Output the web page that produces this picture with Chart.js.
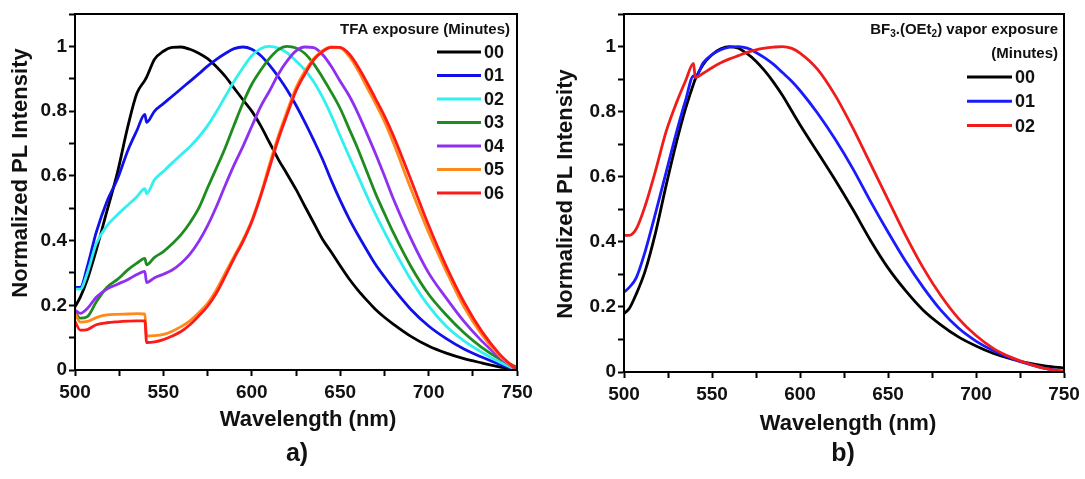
<!DOCTYPE html>
<html>
<head>
<meta charset="utf-8">
<script src="https://cdn.jsdelivr.net/npm/chart.js@4.4.1/dist/chart.umd.min.js"></script>
<style>
  body { margin: 0; background: #fff; width: 1085px; height: 479px; position: relative; overflow: hidden; }
  canvas { position: absolute; top: 0; }
  #chartA { left: 0; }
  #chartB { left: 545px; }
  .tag { position: absolute; top: 452px; transform: translate(-50%, -50%); line-height: 1;
         font-family: "Liberation Sans", Arial, sans-serif; font-weight: bold; font-size: 25px; color: #111; }
</style>
</head>
<body>
<canvas id="chartA" width="545" height="479"></canvas>
<canvas id="chartB" width="540" height="479"></canvas>
<div class="tag" style="left:297px">a)</div>
<div class="tag" style="left:843px">b)</div>
<script>
const FONT = '"Liberation Sans", Arial, sans-serif'

// panel a: TFA exposure
const wlA = [500, 503, 507, 512, 518, 524, 530, 535, 539.5, 540.5,
	545, 550, 555, 560, 565, 570, 575, 580, 585, 590, 595, 600, 605, 610, 615, 620, 625, 630, 635, 640,
	645, 650, 655, 660, 665, 670, 675, 680, 690, 700, 710, 720, 730, 740, 750]
const tfa00 = [0.195, 0.225, 0.28, 0.37, 0.49, 0.61, 0.755, 0.855, 0.895, 0.905,
	0.96, 0.985, 0.997, 0.998, 0.991, 0.979, 0.962, 0.937, 0.907, 0.871, 0.835, 0.80, 0.755, 0.703, 0.651, 0.605, 0.558, 0.506, 0.455, 0.404,
	0.364, 0.322, 0.282, 0.247, 0.216, 0.187, 0.163, 0.142, 0.104, 0.074, 0.052, 0.035, 0.022, 0.01, 0.002]
const tfa01 = [0.255, 0.255, 0.32, 0.425, 0.52, 0.59, 0.68, 0.74, 0.79, 0.765,
	0.80, 0.823, 0.846, 0.869, 0.892, 0.915, 0.939, 0.96, 0.978, 0.993, 0.998, 0.991, 0.972, 0.942, 0.906, 0.865, 0.818, 0.766, 0.71, 0.651,
	0.585, 0.524, 0.468, 0.418, 0.371, 0.326, 0.288, 0.252, 0.187, 0.136, 0.097, 0.065, 0.04, 0.018, 0.0]
const tfa02 = [0.25, 0.25, 0.30, 0.39, 0.445, 0.48, 0.51, 0.535, 0.56, 0.545,
	0.588, 0.614, 0.64, 0.665, 0.69, 0.72, 0.755, 0.798, 0.845, 0.892, 0.934, 0.971, 0.993, 1.0, 0.995, 0.98, 0.955, 0.927, 0.891, 0.843,
	0.786, 0.723, 0.661, 0.60, 0.539, 0.481, 0.427, 0.375, 0.279, 0.198, 0.135, 0.09, 0.055, 0.025, 0.0]
const tfa03 = [0.18, 0.16, 0.165, 0.21, 0.255, 0.28, 0.31, 0.33, 0.345, 0.325,
	0.348, 0.366, 0.39, 0.418, 0.455, 0.50, 0.563, 0.624, 0.687, 0.757, 0.825, 0.883, 0.926, 0.963, 0.99, 1.0, 0.995, 0.978, 0.946, 0.904,
	0.858, 0.808, 0.746, 0.683, 0.614, 0.545, 0.484, 0.425, 0.32, 0.234, 0.17, 0.115, 0.07, 0.035, 0.008]
const tfa04 = [0.185, 0.175, 0.19, 0.225, 0.25, 0.265, 0.28, 0.295, 0.305, 0.27,
	0.285, 0.296, 0.309, 0.33, 0.358, 0.397, 0.446, 0.505, 0.571, 0.634, 0.691, 0.753, 0.814, 0.862, 0.914, 0.955, 0.986, 0.998, 0.996, 0.975,
	0.938, 0.892, 0.848, 0.794, 0.732, 0.668, 0.60, 0.53, 0.406, 0.30, 0.222, 0.15, 0.09, 0.04, 0.0]
const tfa05 = [0.175, 0.148, 0.15, 0.162, 0.17, 0.172, 0.173, 0.174, 0.173, 0.105,
	0.106, 0.11, 0.12, 0.134, 0.152, 0.177, 0.206, 0.248, 0.30, 0.351, 0.402, 0.463, 0.542, 0.635, 0.723, 0.80, 0.872, 0.923, 0.962, 0.987,
	0.998, 0.995, 0.97, 0.927, 0.875, 0.823, 0.768, 0.703, 0.56, 0.425, 0.305, 0.195, 0.11, 0.045, 0.0]
const tfa06 = [0.15, 0.123, 0.125, 0.14, 0.146, 0.149, 0.151, 0.152, 0.152, 0.085,
	0.087, 0.094, 0.105, 0.119, 0.14, 0.167, 0.197, 0.238, 0.29, 0.345, 0.397, 0.458, 0.537, 0.625, 0.713, 0.79, 0.862, 0.914, 0.958, 0.984,
	0.997, 0.997, 0.977, 0.938, 0.89, 0.838, 0.785, 0.725, 0.588, 0.447, 0.32, 0.21, 0.12, 0.05, 0.0]
const tfaLabels = ["00", "01", "02", "03", "04", "05", "06"]
const tfaColors = ["#000000", "#1010e8", "#30f0f0", "#1e8c1e", "#8f2ff0", "#ff8a1c", "#ff1a1a"]

// panel b: BF3.(OEt2) vapor exposure
const wlB = [500, 503, 507, 512, 518, 524, 530, 535, 539.5, 540.5,
	545, 550, 555, 560, 565, 570, 575, 580, 585, 590, 595, 600,
	610, 620, 630, 640, 650, 660, 670, 680, 690, 700, 710, 720, 730, 740, 750]
const bf00 = [0.18, 0.195, 0.24, 0.31, 0.43, 0.575, 0.71, 0.81, 0.885, 0.9,
	0.945, 0.975, 0.993, 1.0, 0.995, 0.978, 0.955, 0.925, 0.89, 0.85, 0.805, 0.76,
	0.675, 0.59, 0.50, 0.405, 0.32, 0.25, 0.19, 0.145, 0.108, 0.08, 0.057, 0.04, 0.027, 0.018, 0.012]
const bf01 = [0.245, 0.26, 0.29, 0.37, 0.49, 0.615, 0.74, 0.835, 0.91, 0.905,
	0.95, 0.975, 0.99, 0.998, 1.0, 0.995, 0.982, 0.965, 0.945, 0.92, 0.895, 0.865,
	0.795, 0.715, 0.625, 0.525, 0.43, 0.34, 0.26, 0.19, 0.135, 0.095, 0.065, 0.042, 0.024, 0.01, 0.002]
const bf02 = [0.42, 0.42, 0.44, 0.51, 0.62, 0.74, 0.83, 0.895, 0.948, 0.905,
	0.918, 0.935, 0.95, 0.962, 0.972, 0.982, 0.99, 0.995, 0.998, 1.0, 0.995, 0.98,
	0.93, 0.85, 0.75, 0.64, 0.53, 0.42, 0.32, 0.235, 0.165, 0.112, 0.072, 0.045, 0.025, 0.01, 0.002]
const bfLabels = ["00", "01", "02"]
const bfColors = ["#000000", "#1a1aff", "#f01c1c"]

// frame, axis titles and the legend inside the plot
function decorations(spec) {
	return {
		id: "decor",
		afterDraw(chart) {
			const { ctx, chartArea: a } = chart
			ctx.save()
			ctx.strokeStyle = "#000"
			ctx.lineWidth = 2
			ctx.strokeRect(a.left, a.top, a.right - a.left, a.bottom - a.top)

			ctx.fillStyle = "#111"
			ctx.textBaseline = "middle"
			ctx.textAlign = "center"
			ctx.font = "bold 22px " + FONT
			ctx.fillText(spec.xTitle, spec.xTitleAt[0], spec.xTitleAt[1])
			ctx.save()
			ctx.translate(spec.yTitleAt[0], spec.yTitleAt[1])
			ctx.rotate(-Math.PI / 2)
			ctx.fillText(spec.yTitle, 0, 0)
			ctx.restore()

			ctx.textAlign = "left"
			spec.legendTitle.forEach((parts, i) => {
				const y = a.top + spec.titleTop + i * spec.titleStep
				let w = 0
				parts.forEach(([t, sub]) => {
					ctx.font = (sub ? "bold 10px " : "bold 15px ") + FONT
					w += ctx.measureText(t).width
				})
				let x = a.right - spec.titleRight - w
				parts.forEach(([t, sub]) => {
					ctx.font = (sub ? "bold 10px " : "bold 15px ") + FONT
					ctx.fillText(t, x, sub ? y + 4 : y)
					x += ctx.measureText(t).width
				})
			})

			chart.data.datasets.forEach((ds, i) => {
				const y = a.top + spec.rowTop + i * spec.rowStep
				ctx.strokeStyle = ds.borderColor
				ctx.lineWidth = 3
				ctx.beginPath()
				ctx.moveTo(a.right - spec.lineFrom, y)
				ctx.lineTo(a.right - spec.lineTo, y)
				ctx.stroke()
				ctx.font = "bold 18px " + FONT
				ctx.fillStyle = "#111"
				ctx.fillText(ds.label, a.right - spec.lineTo + 3, y + 1)
			})
			ctx.restore()
		}
	}
}

function createSpectraChart(id, wl, series, labels, colors, box, spec) {
	const ctx = document.getElementById(id).getContext("2d")
	const tickFont = { size: 19, weight: "bold", family: FONT }

	return new Chart(ctx, {
		type: "line",
		data: {
			datasets: series.map((s, i) => ({
				label: labels[i],
				data: s.map((v, j) => ({ x: wl[j], y: v })),
				borderColor: colors[i],
				backgroundColor: colors[i],
				borderWidth: 2.8,
				pointRadius: 0,
				cubicInterpolationMode: "monotone",
				order: series.length - i,
			})),
		},
		options: {
			responsive: false,
			animation: false,
			layout: { padding: { left: 5, top: box.top, right: box.right, bottom: 0 } },
			plugins: { legend: { display: false }, tooltip: { enabled: false } },
			scales: {
				x: {
					type: "linear",
					min: 500,
					max: 750,
					afterFit: s => { s.height = box.xHeight },
					ticks: {
						stepSize: 25,
						autoSkip: false,
						maxRotation: 0,
						padding: 5,
						color: "#111",
						font: tickFont,
						callback: v => v % 50 === 0 ? String(v) : "",
					},
					grid: { drawOnChartArea: false, tickLength: 6, tickWidth: 2, tickColor: "#000" },
					border: { color: "#000", width: 2 },
				},
				y: {
					min: 0,
					max: 1.1,
					afterFit: s => { s.width = box.yWidth },
					ticks: {
						stepSize: 0.1,
						padding: 2,
						color: "#111",
						font: tickFont,
						callback: v => {
							const k = Math.round(v * 10)
							if (k % 2) return ""
							return k === 0 ? "0" : k === 10 ? "1" : (k / 10).toFixed(1)
						},
					},
					grid: { drawOnChartArea: false, tickLength: 6, tickWidth: 2, tickColor: "#000" },
					border: { color: "#000", width: 2 },
				},
			},
		},
		plugins: [decorations(spec)],
	})
}

createSpectraChart("chartA", wlA, [tfa00, tfa01, tfa02, tfa03, tfa04, tfa05, tfa06], tfaLabels, tfaColors,
	{ top: 14, right: 28, xHeight: 109, yWidth: 70 },
	{
		xTitle: "Wavelength (nm)", xTitleAt: [308, 420],
		yTitle: "Normalized PL Intensity", yTitleAt: [21, 173],
		legendTitle: [[["TFA exposure (Minutes)", false]]],
		titleRight: 7, titleTop: 16, titleStep: 23,
		lineFrom: 80, lineTo: 36, rowTop: 38, rowStep: 23.5,
	})

createSpectraChart("chartB", wlB, [bf00, bf01, bf02], bfLabels, bfColors,
	{ top: 14, right: 21, xHeight: 107, yWidth: 74 },
	{
		xTitle: "Wavelength (nm)", xTitleAt: [303, 424],
		yTitle: "Normalized PL Intensity", yTitleAt: [21, 194],
		legendTitle: [
			[["BF", false], ["3", true], [".(OEt", false], ["2", true], [") vapor exposure", false]],
			[["(Minutes)", false]],
		],
		titleRight: 6, titleTop: 16, titleStep: 23.5,
		lineFrom: 97, lineTo: 52, rowTop: 63, rowStep: 24.3,
	})
</script>
</body>
</html>
